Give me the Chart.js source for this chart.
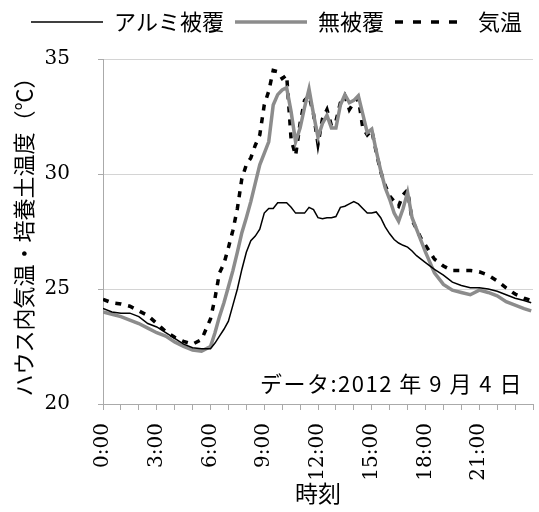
<!DOCTYPE html>
<html>
<head>
<meta charset="utf-8">
<script src="https://cdn.jsdelivr.net/npm/chart.js@4/dist/chart.umd.min.js"></script>
<style>
  body { margin: 0; background: #fff; }
</style>
</head>
<body>
<canvas id="myChart" width="539" height="512"></canvas>
<script>
// hours of the day (0 = 0:00)
const hours = [
  0, 0.5, 1, 1.5, 2, 2.5, 3, 3.5, 4, 4.5, 5, 5.5, 6,
  6.25, 6.5, 6.75, 7, 7.25, 7.5, 7.75, 8, 8.25, 8.5, 8.75, 9, 9.25, 9.5, 9.75,
  10, 10.25, 10.5, 10.75, 11, 11.25, 11.5, 11.75, 12, 12.25, 12.5, 12.75,
  13, 13.25, 13.5, 13.75, 14, 14.25, 14.5, 14.75, 15, 15.25, 15.5, 15.75,
  16, 16.25, 16.5, 16.75, 17, 17.25, 17.5, 17.75, 18,
  18.5, 19, 19.5, 20, 20.5, 21, 21.5, 22, 22.5, 23, 23.5, 23.9
];
const alumi = [
  24.15, 24.0, 23.95, 23.95, 23.8, 23.5, 23.35, 23.1, 22.85, 22.6, 22.45, 22.4, 22.4,
  22.65, 22.95, 23.25, 23.6, 24.3, 25.0, 25.85, 26.6, 27.1, 27.3, 27.6, 28.3, 28.5, 28.5, 28.75,
  28.75, 28.75, 28.55, 28.3, 28.3, 28.3, 28.55, 28.45, 28.1, 28.05, 28.1, 28.1,
  28.15, 28.55, 28.6, 28.7, 28.8, 28.7, 28.5, 28.3, 28.3, 28.35, 28.1, 27.7,
  27.4, 27.15, 27.0, 26.9, 26.82, 26.65, 26.45, 26.3, 26.15,
  25.85, 25.6, 25.3, 25.15, 25.05, 25.05, 25.0, 24.9, 24.75, 24.6, 24.5, 24.4
];
const noCover = [
  24.0, 23.9, 23.8, 23.65, 23.5, 23.3, 23.1, 22.95, 22.7, 22.5, 22.35, 22.3, 22.5,
  23.1, 23.8, 24.4, 25.1, 25.8, 26.6, 27.45, 28.1, 28.8, 29.6, 30.4, 30.9, 31.4, 33.0, 33.45,
  33.65, 33.75, 32.7, 31.4, 32.0, 32.9, 33.7, 32.6, 31.6, 32.2, 32.55, 32.0,
  32.0, 33.0, 33.45, 33.1, 33.2, 33.4, 32.6, 31.8, 31.95, 31.0, 30.15, 29.4,
  28.9, 28.3, 27.95, 28.5, 29.2, 28.1, 27.6, 27.1, 26.6,
  25.7, 25.2, 24.95, 24.85, 24.75, 24.95, 24.85, 24.7, 24.45, 24.3, 24.15, 24.05
];
const airTemp = [
  24.55, 24.4, 24.35, 24.25, 24.05, 23.85, 23.5, 23.15, 22.9, 22.72, 22.6, 22.8, 23.7,
  24.6, 25.7, 26.1, 26.8, 27.55, 28.5, 29.8, 30.4, 30.7, 31.25, 31.7, 33.0, 33.6, 34.5, 34.45,
  34.15, 34.3, 31.5, 30.8, 32.2, 33.2, 33.4, 32.6, 31.3, 32.4, 32.8, 32.1,
  32.3, 33.1, 33.4, 32.8, 33.1, 33.3, 32.0, 31.7, 31.9, 30.95, 30.1, 29.5,
  29.05, 28.8, 28.6, 29.1, 29.3, 28.0, 27.6, 27.2, 26.9,
  26.3, 26.0, 25.8, 25.8, 25.8, 25.75, 25.6, 25.35, 25.05, 24.78, 24.6, 24.5
];
const seriesNames = ['アルミ被覆', '無被覆', '気温'];
const yTicks = [20, 25, 30, 35];
const xLabelHours = [0, 3, 6, 9, 12, 15, 18, 21];
const noteText = 'データ:2012 年 9 月 4 日';

const jp = '"Noto Sans CJK JP", sans-serif';
const serif = '"DejaVu Serif", serif';
const lineWidths = [1.5, 3.5, 3.5];
const lineDashes = [[], [], [6, 7]];

function pts(vals) {
  return hours.map((h, i) => ({ x: h, y: vals[i] }));
}

const notePlugin = {
  id: 'note',
  afterDraw(chart) {
    const ctx = chart.ctx;
    const y = chart.scales.y.getPixelForValue(20.9);
    ctx.save();
    ctx.font = '22px ' + jp;
    ctx.letterSpacing = '1.5px';
    ctx.fillStyle = '#000';
    ctx.textAlign = 'right';
    ctx.textBaseline = 'middle';
    ctx.fillText(noteText, chart.chartArea.right - 10, y);
    ctx.restore();
  }
};

const ctx = document.getElementById('myChart').getContext('2d');
new Chart(ctx, {
  type: 'line',
  data: {
    datasets: [
      {
        label: seriesNames[0],
        data: pts(alumi),
        borderColor: '#000',
        borderWidth: lineWidths[0],
        pointStyle: 'line'
      },
      {
        label: seriesNames[1],
        data: pts(noCover),
        borderColor: '#8c8c8c',
        borderWidth: lineWidths[1],
        pointStyle: 'line'
      },
      {
        label: seriesNames[2],
        data: pts(airTemp),
        borderColor: '#000',
        borderWidth: lineWidths[2],
        borderDash: lineDashes[2],
        pointStyle: 'line'
      }
    ]
  },
  options: {
    responsive: false,
    animation: false,
    layout: { padding: { left: 0, right: 6, top: 0, bottom: 0 } },
    elements: { point: { radius: 0 }, line: { tension: 0 } },
    plugins: {
      legend: {
        display: true,
        position: 'top',
        align: 'end',
        labels: {
          usePointStyle: true,
          pointStyleWidth: 72,
          color: '#000',
          padding: 11,
          font: { family: jp, size: 22 },
          generateLabels(chart) {
            const items = Chart.defaults.plugins.legend.labels.generateLabels(chart);
            items.forEach((it, i) => {
              it.lineWidth = lineWidths[i];
              it.lineDash = i === 2 ? [8, 10] : [];
              it.strokeStyle = chart.data.datasets[i].borderColor;
            });
            return items;
          }
        }
      },
      // empty spacer between legend and plot
      subtitle: {
        display: true,
        text: '',
        weight: 500,
        padding: 2,
        font: { size: 10 }
      },
      tooltip: { enabled: false }
    },
    scales: {
      x: {
        type: 'linear',
        min: 0,
        max: 24,
        afterFit(scale) {
          scale.height = 108;
          scale.paddingRight = 0;
          scale.paddingLeft = 0;
        },
        border: { display: true, color: '#aaa' },
        grid: {
          drawOnChartArea: false,
          drawTicks: true,
          tickLength: 6,
          color: '#aaa'
        },
        ticks: {
          stepSize: 1,
          autoSkip: false,
          minRotation: 90,
          maxRotation: 90,
          padding: 13,
          color: '#000',
          font: { family: serif, size: 20 },
          callback: v => xLabelHours.includes(v) ? v + ':00' : ''
        },
        title: {
          display: true,
          text: '時刻',
          color: '#000',
          padding: { top: 0, bottom: 5 },
          font: { family: jp, size: 23 }
        }
      },
      y: {
        min: yTicks[0],
        max: yTicks[yTicks.length - 1],
        afterFit(scale) { scale.width = 103; },
        border: { display: true, color: '#aaa' },
        grid: {
          color: '#d4d4d4',
          tickLength: 5,
          tickColor: '#aaa'
        },
        ticks: {
          stepSize: 5,
          padding: 28,
          color: '#000',
          font: { family: serif, size: 20 }
        },
        title: {
          display: true,
          text: 'ハウス内気温・培養土温度（℃）',
          color: '#000',
          padding: { top: 10 },
          font: { family: jp, size: 22 }
        }
      }
    }
  },
  plugins: [notePlugin]
});
</script>
</body>
</html>
